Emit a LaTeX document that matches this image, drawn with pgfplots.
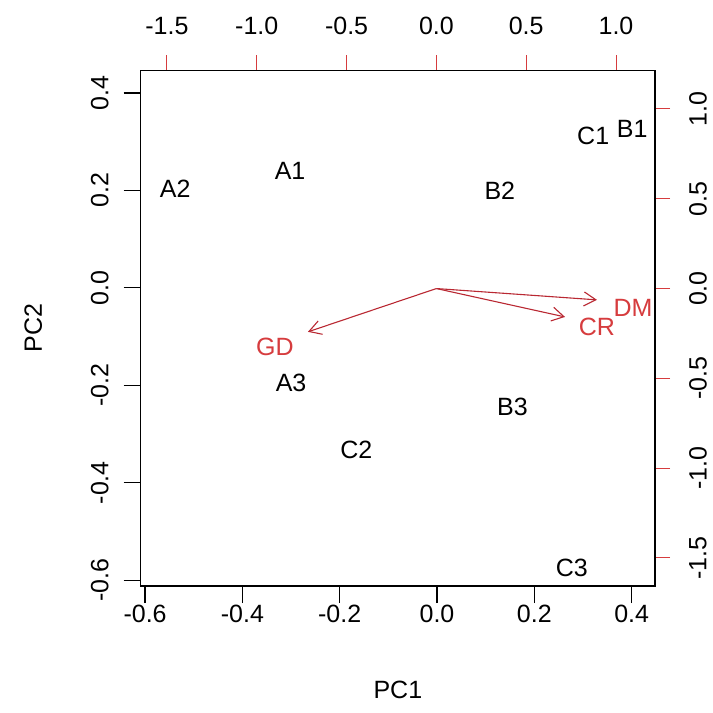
\documentclass[border=0pt]{standalone}
\usepackage{fontspec}
\setmainfont{Liberation Sans}
\usepackage{pgfplots}
\pgfplotsset{compat=1.18}
\usetikzlibrary{arrows.meta}
\definecolor{rcol}{RGB}{214,60,62}
\definecolor{rarrow}{RGB}{185,40,50}
\newcommand{\rfont}{\fontsize{25}{29}\selectfont}
\begin{document}
\begin{tikzpicture}
% primary axis: scores (PC1 / PC2)
\begin{axis}[name=ax, at={(0pt,0pt)}, anchor=south west, scale only axis,
  width=514.3pt, height=515.5pt,
  xmin=-0.609, xmax=0.448, ymin=-0.612, ymax=0.446,
  axis line style={line width=1.2pt, black},
  tick align=outside, major tick length=17pt,
  every tick/.style={black, line width=1.2pt},
  xtick pos=left, ytick pos=left,
  xtick={-0.6,-0.4,-0.2,0,0.2,0.4}, xticklabels={-0.6,-0.4,-0.2,0.0,0.2,0.4},
  ytick={-0.6,-0.4,-0.2,0,0.2,0.4}, yticklabels={-0.6,-0.4,-0.2,0.0,0.2,0.4},
  tick label style={font=\rfont},
  xticklabel style={anchor=center, yshift=-11pt},
  yticklabel style={rotate=90, anchor=center, yshift=24pt},
  xlabel={PC1}, ylabel={PC2},
  label style={font=\rfont},
  xlabel style={at={(axis description cs:0.5,-0.202)}, anchor=center},
  ylabel style={at={(axis description cs:-0.209,0.5)}, anchor=center, rotate=0},
  clip=false]
\addplot[only marks, mark=none, nodes near coords, point meta=explicit symbolic,
  nodes near coords style={anchor=center, font=\rfont, black, inner sep=0pt}]
  table[meta=lab] {
x y lab
-0.302 0.240 A1
-0.538 0.203 A2
-0.300 -0.195 A3
0.401 0.326 B1
0.129 0.199 B2
0.155 -0.245 B3
0.321 0.312 C1
-0.166 -0.333 C2
0.277 -0.575 C3
};
\end{axis}
% secondary axis: loadings
\begin{axis}[at={(0pt,0pt)}, anchor=south west, scale only axis,
  width=514.3pt, height=515.5pt,
  xmin=-1.646, xmax=1.217, ymin=-1.656, ymax=1.214,
  axis line style={line width=1.2pt, black},
  tick align=outside, major tick length=15pt,
  every tick/.style={rcol, line width=1pt},
  xtick pos=right, ytick pos=right,
  xtick={-1.5,-1,-0.5,0,0.5,1}, xticklabels={-1.5,-1.0,-0.5,0.0,0.5,1.0},
  ytick={-1.5,-1,-0.5,0,0.5,1}, yticklabels={-1.5,-1.0,-0.5,0.0,0.5,1.0},
  tick label style={font=\rfont, black},
  xticklabel style={anchor=center, yshift=29.5pt},
  yticklabel style={rotate=90, anchor=center, yshift=-28pt},
  clip=false]
\addplot[rarrow, line width=1.1pt, -{Straight Barb[length=12pt,width=14pt]}] coordinates {(0,0) (-0.715,-0.241)};
\addplot[rarrow, line width=1.1pt, -{Straight Barb[length=12pt,width=14pt]}] coordinates {(0,0) (0.716,-0.158)};
\addplot[rarrow, line width=1.1pt, -{Straight Barb[length=12pt,width=14pt]}] coordinates {(0,0) (0.894,-0.063)};
\addplot[only marks, mark=none, nodes near coords, point meta=explicit symbolic,
  nodes near coords style={anchor=center, font=\rfont, text=rcol, inner sep=0pt}]
  table[meta=lab] {
x y lab
-0.899 -0.325 GD
0.894 -0.214 CR
1.095 -0.108 DM
};
\end{axis}
\pgfresetboundingbox
\path[use as bounding box] (-140.7pt,-127pt) rectangle (572.3pt,586pt);
\end{tikzpicture}
\end{document}
